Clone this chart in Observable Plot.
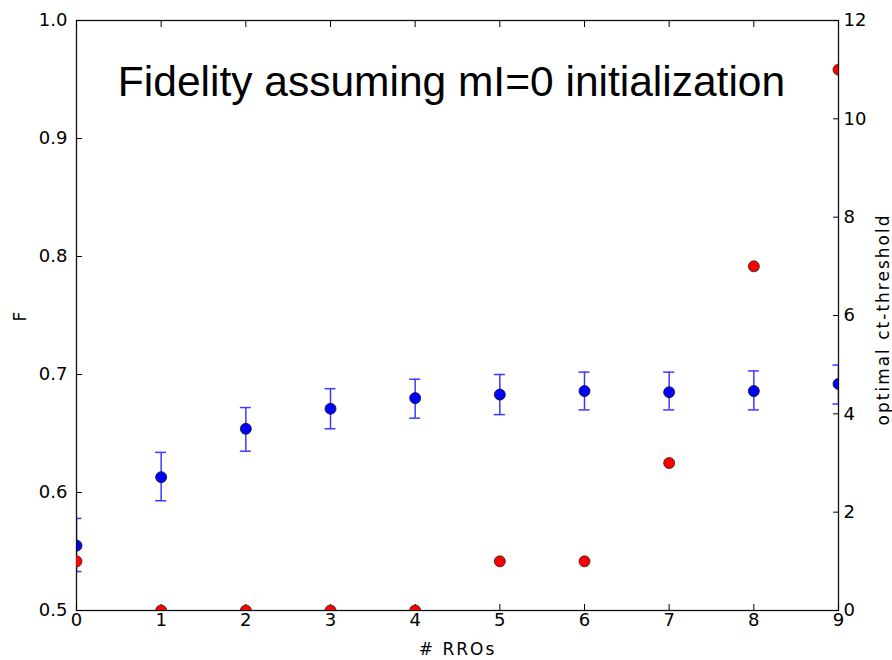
<!DOCTYPE html>
<html><head><meta charset="utf-8">
<script src="https://cdn.jsdelivr.net/npm/d3@7"></script>
<script src="https://cdn.jsdelivr.net/npm/@observablehq/plot@0.6"></script>
<style>
body{margin:0;background:#fff}
#wrap{position:relative;width:892px;height:660px}
#wrap svg{position:absolute;left:0;top:0;background:transparent}
</style>
</head><body><div id="wrap"></div>
<script>
const rros = [0,1,2,3,4,5,6,7,8,9];
const fidelity = [0.555,0.613,0.654,0.671,0.680,0.683,0.686,0.685,0.686,0.692];
const fidelityLow = [0.533,0.593,0.635,0.654,0.663,0.666,0.670,0.670,0.670,0.675];
const fidelityHigh = [0.578,0.634,0.672,0.688,0.696,0.700,0.702,0.702,0.703,0.708];
const threshold = [1,0,0,0,0,1,1,3,7,11];
const xTicks = [0,1,2,3,4,5,6,7,8,9];
const fTicks = [0.5,0.6,0.7,0.8,0.9,1.0];
const thrTicks = [0,2,4,6,8,10,12];
const titleText = "Fidelity assuming mI=0 initialization";
const xLabel = "# RROs";
const fLabel = "F";
const thrLabel = "optimal ct-threshold";

const fData = rros.map((x,i)=>({x, f: fidelity[i], lo: fidelityLow[i], hi: fidelityHigh[i]}));
const tData = rros.map((x,i)=>({x, t: threshold[i]}));

const W = 892, H = 660;
const M = {top:20, right:54, bottom:50, left:76};
const tickFont = "DejaVu Sans, sans-serif";
const capHalf = 0.065;
const labelStyle = {fontSize: 17, fontFamily: tickFont};

const p1 = Plot.plot({
  width: W, height: H,
  marginTop: M.top, marginRight: M.right, marginBottom: M.bottom, marginLeft: M.left,
  style: {fontFamily: tickFont, fontSize: "18px", color: "#000", background: "transparent"},
  x: {domain: [0, 9]},
  y: {domain: [0.5, 1.0]},
  marks: [
    Plot.ruleX(fData, {x: "x", y1: "lo", y2: "hi", stroke: "#3a3aff", strokeWidth: 1.5, clip: true}),
    Plot.ruleY(fData, {y: "lo", x1: d => d.x - capHalf, x2: d => d.x + capHalf, stroke: "#3a3aff", strokeWidth: 1.5, clip: true}),
    Plot.ruleY(fData, {y: "hi", x1: d => d.x - capHalf, x2: d => d.x + capHalf, stroke: "#3a3aff", strokeWidth: 1.5, clip: true}),
    Plot.dot(fData, {x: "x", y: "f", r: 5.5, fill: "#0000ff", stroke: "#111", strokeWidth: 0.8, clip: true}),
    Plot.frame({stroke: "#111", strokeWidth: 1.3}),
    Plot.axisX({anchor: "bottom", ticks: xTicks, tickSize: -6, tickPadding: 9, label: null, fontSize: 18}),
    Plot.axisX({anchor: "top", ticks: xTicks, tickSize: -6, tickFormat: () => "", label: null}),
    Plot.axisY({anchor: "left", ticks: fTicks, tickSize: -6, tickPadding: 15, tickFormat: d3.format(".1f"), label: null, fontSize: 18}),
    Plot.text([xLabel], {frameAnchor: "bottom", textAnchor: "middle", dy: 44, lineAnchor: "bottom", ...labelStyle}),
    Plot.text([fLabel], {frameAnchor: "left", textAnchor: "middle", dx: -56, rotate: -90, ...labelStyle}),
    Plot.text([titleText], {frameAnchor: "top", textAnchor: "middle", lineAnchor: "top", dx: -6, dy: 45, fontSize: 42.5, fontFamily: "Liberation Sans, Arial, sans-serif"})
  ]
});

const p2 = Plot.plot({
  width: W, height: H,
  marginTop: M.top, marginRight: M.right, marginBottom: M.bottom, marginLeft: M.left,
  style: {fontFamily: tickFont, fontSize: "18px", color: "#000", background: "transparent"},
  x: {domain: [0, 9], axis: null},
  y: {domain: [0, 12], axis: null},
  marks: [
    Plot.dot(tData, {x: "x", y: "t", r: 5.5, fill: "#ff0000", stroke: "#222", strokeWidth: 0.8, clip: true}),
    Plot.axisY({anchor: "right", ticks: thrTicks, tickSize: -6, tickPadding: 11, label: null, fontSize: 18}),
    Plot.text([thrLabel], {frameAnchor: "right", textAnchor: "middle", dx: 45, dy: 4, rotate: -90, ...labelStyle})
  ]
});

const wrap = document.getElementById("wrap");
wrap.appendChild(p1);
wrap.appendChild(p2);
// matplotlib renders axis labels with wider glyph spacing
[p1, p2].forEach(svg => svg.querySelectorAll("text").forEach(t => {
  if ([xLabel, fLabel, thrLabel].includes(t.textContent)) t.style.letterSpacing = "2px";
}));
</script>
</body></html>
